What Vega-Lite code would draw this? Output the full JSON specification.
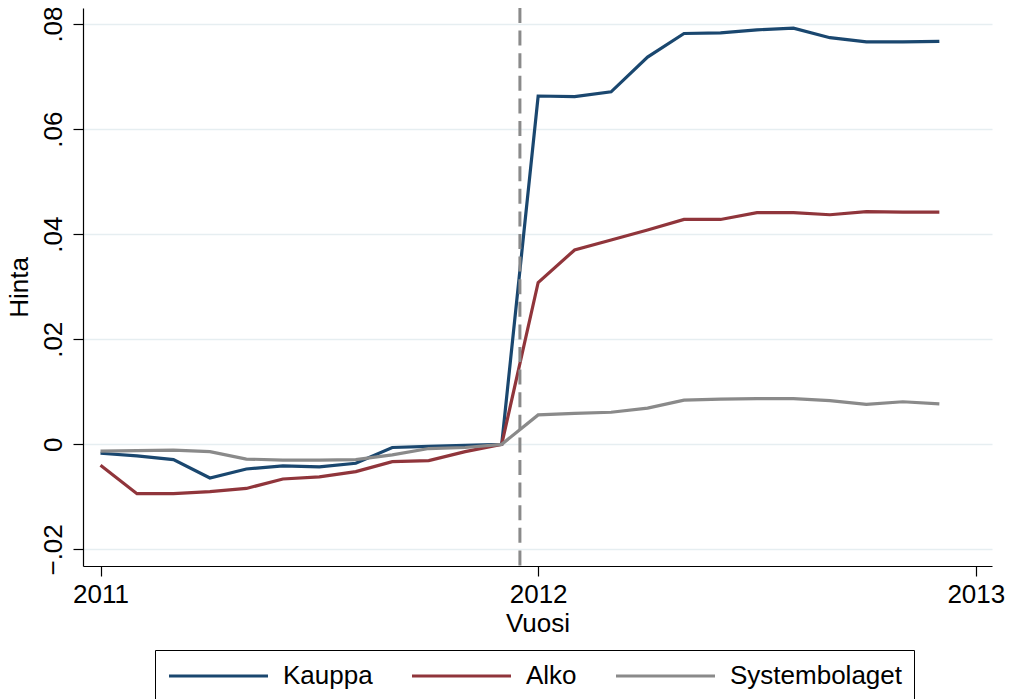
{
  "$schema": "https://vega.github.io/schema/vega-lite/v6.json",
  "autosize": "none",
  "width": 909,
  "height": 558,
  "padding": {"left": 83, "top": 8, "right": 18, "bottom": 133},
  "background": "white",
  "config": {
    "view": {"stroke": null},
    "font": "Liberation Sans",
    "axis": {
      "labelFont": "Liberation Sans",
      "titleFont": "Liberation Sans",
      "labelFontSize": 26,
      "titleFontSize": 26,
      "labelColor": "black",
      "titleColor": "black",
      "titleFontWeight": "normal",
      "domainColor": "black",
      "domainWidth": 1.2,
      "tickColor": "black",
      "tickWidth": 1.2,
      "tickSize": 10,
      "gridColor": "#E6EEF1",
      "gridWidth": 1.5,
      "labelOverlap": false
    }
  },
  "encoding": {
    "x": {
      "field": "t",
      "type": "quantitative",
      "scale": {"domain": [2010.96, 2013.037], "nice": false, "zero": false},
      "axis": {
        "values": [2011, 2012, 2013],
        "labelExpr": "format(datum.value, 'd')",
        "tickCount": 20,
        "tickMinStep": 0.1,
        "grid": false,
        "title": "Vuosi",
        "labelPadding": 5,
        "titlePadding": 3,
        "labelFlush": false
      }
    }
  },
  "layer": [
    {
      "data": {
        "values": [
          {"t": 2011.0, "Kauppa": -0.0017, "Alko": -0.0040, "Systembolaget": -0.0013},
          {"t": 2011.0833, "Kauppa": -0.0022, "Alko": -0.0094, "Systembolaget": -0.0012},
          {"t": 2011.1667, "Kauppa": -0.0029, "Alko": -0.0094, "Systembolaget": -0.0011},
          {"t": 2011.25, "Kauppa": -0.0064, "Alko": -0.0090, "Systembolaget": -0.0014},
          {"t": 2011.3333, "Kauppa": -0.0047, "Alko": -0.0084, "Systembolaget": -0.0028},
          {"t": 2011.4167, "Kauppa": -0.0041, "Alko": -0.0066, "Systembolaget": -0.0030},
          {"t": 2011.5, "Kauppa": -0.0043, "Alko": -0.0062, "Systembolaget": -0.0030},
          {"t": 2011.5833, "Kauppa": -0.0036, "Alko": -0.0052, "Systembolaget": -0.0029},
          {"t": 2011.6667, "Kauppa": -0.0006, "Alko": -0.0033, "Systembolaget": -0.0020},
          {"t": 2011.75, "Kauppa": -0.0004, "Alko": -0.0031, "Systembolaget": -0.0008},
          {"t": 2011.8333, "Kauppa": -0.0002, "Alko": -0.0014, "Systembolaget": -0.0006},
          {"t": 2011.9167, "Kauppa": 0.0, "Alko": 0.0, "Systembolaget": 0.0},
          {"t": 2012.0, "Kauppa": 0.0663, "Alko": 0.0308, "Systembolaget": 0.0056},
          {"t": 2012.0833, "Kauppa": 0.0662, "Alko": 0.0370, "Systembolaget": 0.0059},
          {"t": 2012.1667, "Kauppa": 0.0671, "Alko": 0.0389, "Systembolaget": 0.0061},
          {"t": 2012.25, "Kauppa": 0.0737, "Alko": 0.0408, "Systembolaget": 0.0069},
          {"t": 2012.3333, "Kauppa": 0.0782, "Alko": 0.0428, "Systembolaget": 0.0084},
          {"t": 2012.4167, "Kauppa": 0.0783, "Alko": 0.0428, "Systembolaget": 0.0086},
          {"t": 2012.5, "Kauppa": 0.0789, "Alko": 0.0441, "Systembolaget": 0.0087},
          {"t": 2012.5833, "Kauppa": 0.0792, "Alko": 0.0441, "Systembolaget": 0.0087},
          {"t": 2012.6667, "Kauppa": 0.0774, "Alko": 0.0437, "Systembolaget": 0.0083},
          {"t": 2012.75, "Kauppa": 0.0766, "Alko": 0.0443, "Systembolaget": 0.0076},
          {"t": 2012.8333, "Kauppa": 0.0766, "Alko": 0.0442, "Systembolaget": 0.0081},
          {"t": 2012.9167, "Kauppa": 0.0767, "Alko": 0.0442, "Systembolaget": 0.0077}
        ]
      },
      "transform": [{"fold": ["Kauppa", "Alko", "Systembolaget"], "as": ["series", "v"]}],
      "mark": {"type": "line", "strokeWidth": 3.2},
      "encoding": {
        "y": {
          "field": "v",
          "type": "quantitative",
          "scale": {"domain": [-0.02316, 0.08305], "nice": false, "zero": false},
          "axis": {
            "values": [-0.02, 0, 0.02, 0.04, 0.06, 0.08],
            "labelExpr": "datum.value == 0 ? '0' : replace(format(datum.value, '.2f'), '0.', '.')",
            "labelAngle": -90,
            "labelAlign": "center",
            "labelBaseline": "alphabetic",
            "labelPadding": 12,
            "grid": true,
            "title": "Hinta",
            "titlePadding": 8,
            "labelFlush": false
          }
        },
        "color": {
          "field": "series",
          "type": "nominal",
          "sort": ["Kauppa", "Alko", "Systembolaget"],
          "scale": {"domain": ["Kauppa", "Alko", "Systembolaget"], "range": ["#1A476F", "#90353B", "#8A8A8A"]},
          "legend": {
            "title": null,
            "orient": "none",
            "legendX": 72,
            "legendY": 642,
            "direction": "horizontal",
            "symbolType": "stroke",
            "symbolSize": 9801,
            "symbolStrokeWidth": 3.2,
            "clipHeight": 28,
            "labelFontSize": 26,
            "labelFont": "Liberation Sans",
            "labelColor": "black",
            "labelLimit": 0,
            "labelOffset": 13,
            "columnPadding": 37,
            "padding": 12,
            "strokeColor": "black",
            "fillColor": "white",
            "cornerRadius": 0
          }
        }
      }
    },
    {
      "data": {"values": [{"t": 2011.9583}]},
      "mark": {"type": "rule", "color": "#8A8A8A", "strokeWidth": 3, "strokeDash": [15, 7.6]},
      "encoding": {}
    }
  ]
}
